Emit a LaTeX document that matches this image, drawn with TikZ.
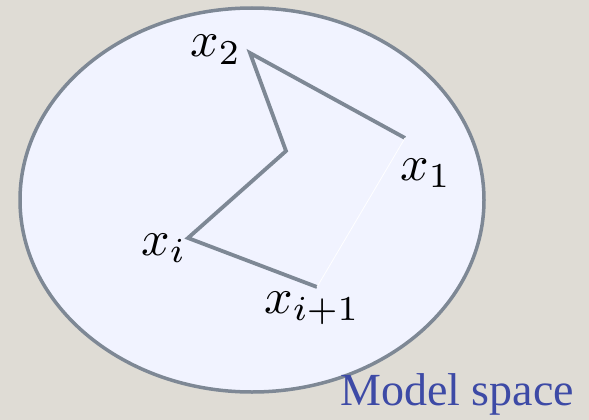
\documentclass[tikz,border=0pt]{standalone}
\usepackage{graphicx}
\usepackage{fontspec}
\usetikzlibrary{shapes.geometric}
\newfontfamily\capfont{Liberation Serif}
\newcommand{\bigmath}[1]{\scalebox{5.0}{$#1$}}
\definecolor{bgc}{HTML}{DFDCD5}
\definecolor{ellfill}{HTML}{F1F3FF}
\definecolor{edgec}{HTML}{7E8895}
\definecolor{capc}{HTML}{3D4AA6}
\tikzset{
  lab/.style={inner sep=0pt, anchor=base west},
  pathline/.style={draw=edgec, line width=3.8pt, line join=miter},
}
\begin{document}
\begin{tikzpicture}[x=1pt,y=-1pt]
\fill[bgc] (0,0) rectangle (589,420);
\useasboundingbox (0,0) rectangle (589,420);
\node[ellipse, draw=edgec, fill=ellfill, line width=3.5pt, minimum width=464pt, minimum height=384pt, inner sep=0pt] (space) at (252,200) {};
\coordinate (p2) at (250,53);
\coordinate (p1) at (405,138);
\coordinate (pm) at (286,151);
\coordinate (pi) at (188,238);
\coordinate (pip) at (317,287);
\draw[pathline] (p1) -- (p2) -- (pm) -- (pi) -- (pip);
\draw[white, line width=0.8pt] (pip) -- (p1);
\node[lab] (l2) at (190,57) {\bigmath{x_2}};
\node[lab] (l1) at (400,180) {\bigmath{x_1}};
\node[lab] (li) at (141,255) {\bigmath{x_i}};
\node[lab] (lip) at (264,313) {\bigmath{x_{i+1}}};
\node[inner sep=0pt, anchor=base west, text=capc, font=\capfont\fontsize{46}{50}\selectfont] (cap) at (340,405) {Model space};
\end{tikzpicture}
\end{document}
